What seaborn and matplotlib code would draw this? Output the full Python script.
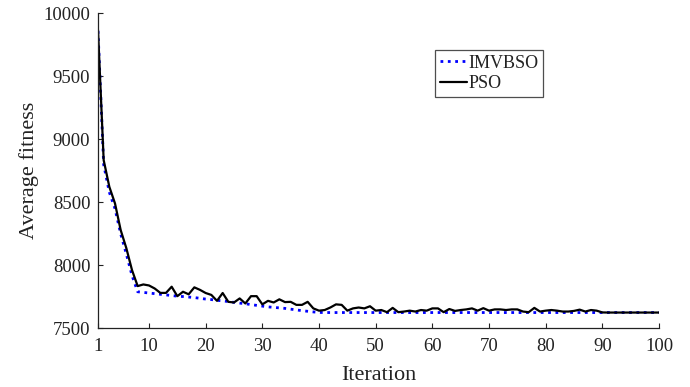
import numpy as np
import pandas as pd
import matplotlib
matplotlib.use("Agg")
import matplotlib.pyplot as plt
import seaborn as sns

iterations = list(range(1, 101))

imvbso = [9860, 8800, 8580, 8450, 8250, 8090, 7920, 7790, 7785, 7780,
          7775, 7770, 7765, 7760, 7755, 7752, 7748, 7744, 7738, 7732,
          7728, 7722, 7718, 7712, 7706, 7700, 7695, 7688, 7682, 7676,
          7670, 7666, 7662, 7658, 7652, 7646, 7640, 7635, 7630, 7626] + [7625] * 60

pso = [9868, 8835, 8623, 8491, 8280, 8136, 7962, 7835, 7848, 7840,
       7816, 7781, 7781, 7830, 7755, 7790, 7770, 7825, 7805, 7780,
       7765, 7718, 7780, 7710, 7705, 7737, 7697, 7755, 7755, 7690,
       7718, 7705, 7730, 7708, 7710, 7686, 7686, 7710, 7658, 7640,
       7645, 7665, 7690, 7686, 7640, 7658, 7665, 7658, 7675, 7640,
       7645, 7628, 7662, 7628, 7633, 7640, 7633, 7645, 7640, 7658,
       7658, 7628, 7653, 7638, 7645, 7650, 7658, 7640, 7660, 7640,
       7650, 7650, 7645, 7650, 7650, 7633, 7628, 7662, 7633, 7640,
       7645, 7640, 7633, 7633, 7638, 7648, 7633, 7645, 7640, 7626] + [7625] * 10

x_ticks = [1, 10, 20, 30, 40, 50, 60, 70, 80, 90, 100]
y_ticks = [7500, 8000, 8500, 9000, 9500, 10000]

sns.set_theme(style="white")
plt.rcParams['font.family'] = ['Liberation Serif', 'DejaVu Serif']
plt.rcParams['mathtext.fontset'] = 'stix'

df = pd.DataFrame({"Iteration": iterations, "IMVBSO": imvbso, "PSO": pso})

fig = plt.figure(figsize=(6.9, 3.87), dpi=100)
ax = fig.add_axes([98 / 690, 1 - 328.3 / 387, (659 - 98) / 690, (328.3 - 13.3) / 387])

sns.lineplot(data=df, x="Iteration", y="IMVBSO", ax=ax, color=(0, 0, 1),
             linestyle=":", linewidth=2.0, label="IMVBSO")
sns.lineplot(data=df, x="Iteration", y="PSO", ax=ax, color="black",
             linestyle="-", linewidth=1.6, label="PSO")

ax.set_xlim(1, 100)
ax.set_ylim(7500, 10000)
ax.set_xticks(x_ticks)
ax.set_yticks(y_ticks)
ax.tick_params(direction="in", length=3.6, width=0.8, colors="#222222",
               labelsize=13.5, labelcolor="#222222", bottom=True, left=True)
ax.tick_params(axis="x", pad=7)
ax.tick_params(axis="y", pad=5.5)
for side in ["top", "right"]:
    ax.spines[side].set_visible(False)
for side in ["left", "bottom"]:
    ax.spines[side].set_color("#222222")
    ax.spines[side].set_linewidth(0.9)

ax.set_xlabel("Iteration", fontsize=16, color="#222222", labelpad=8)
ax.set_ylabel("Average fitness", fontsize=16, color="#222222", labelpad=3)

leg = ax.legend(loc="upper left", bbox_to_anchor=(0.6007, 0.8835), borderaxespad=0,
                fontsize=13, frameon=True, fancybox=False, handlelength=1.5,
                handletextpad=0.1, borderpad=0.25, labelspacing=0.2)
leg.get_frame().set_edgecolor("#222222")
leg.get_frame().set_linewidth(0.9)
for t in leg.get_texts():
    t.set_color("#222222")

fig.savefig("out.png", dpi=100)
